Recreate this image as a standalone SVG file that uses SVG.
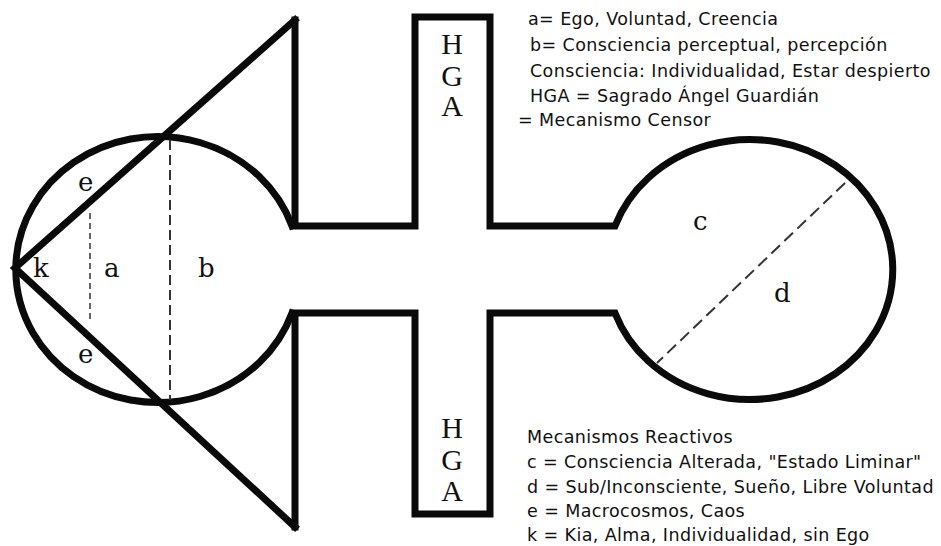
<svg xmlns="http://www.w3.org/2000/svg" width="941" height="546" viewBox="0 0 941 546">
<style>
.ol{fill:none;stroke:#0a0a0a;stroke-width:7;stroke-linejoin:miter;stroke-linecap:square}
.dash{fill:none;stroke:#333;}
.lbl{font-family:"DejaVu Serif","Liberation Serif",serif;font-size:26px;fill:#111}
.hga{font-family:"Liberation Serif","DejaVu Serif",serif;font-size:30px;fill:#111;text-anchor:middle}
.leg{font-family:"DejaVu Sans","Liberation Sans",sans-serif;font-size:17.5px;letter-spacing:0.4px;fill:#111}
</style>
<rect width="941" height="546" fill="#fff"/>
<g id="outline">
<path class="ol" d="M295,20 L295,226 L415,226 L415,17 L490,17 L490,226 L615,226 A143,130 0 1,1 615,313 L490,313 L490,514 L415,514 L415,313 L295,313 L295,527"/>
<path class="ol" d="M292,226 A142,133 0 1,0 292,313"/>
<path class="ol" d="M295,20 L15,268 L295,527"/>
</g>
<g id="connectors">
<line class="dash" x1="90" y1="213" x2="90" y2="322" stroke-width="1.5" stroke-dasharray="6,4"/>
<line class="dash" x1="170" y1="140" x2="170" y2="400" stroke-width="2" stroke-dasharray="10,5"/>
<line class="dash" x1="845" y1="183" x2="657" y2="363" stroke-width="2" stroke-dasharray="12,6"/>
</g>
<g id="labels">
<text class="lbl" x="78" y="191">e</text>
<text class="lbl" x="78" y="363">e</text>
<text class="lbl" x="33" y="277">k</text>
<text class="lbl" x="104" y="277">a</text>
<text class="lbl" x="198" y="277">b</text>
<text class="lbl" x="693" y="230">c</text>
<text class="lbl" x="774" y="302">d</text>
</g>
<g id="hga-top">
<text class="hga" x="452" y="54">H</text>
<text class="hga" x="452" y="86">G</text>
<text class="hga" x="452" y="116">A</text>
</g>
<g id="hga-bottom">
<text class="hga" x="452" y="438">H</text>
<text class="hga" x="452" y="470">G</text>
<text class="hga" x="452" y="501">A</text>
</g>
<g id="legend-top">
<text class="leg" x="528" y="25">a= Ego, Voluntad, Creencia</text>
<text class="leg" x="530" y="51">b= Consciencia perceptual, percepción</text>
<text class="leg" x="530" y="77">Consciencia: Individualidad, Estar despierto</text>
<text class="leg" x="530" y="102">HGA = Sagrado Ángel Guardián</text>
<text class="leg" x="518" y="126">= Mecanismo Censor</text>
</g>
<g id="legend-bottom">
<text class="leg" x="527" y="443">Mecanismos Reactivos</text>
<text class="leg" x="527" y="468">c = Consciencia Alterada, "Estado Liminar"</text>
<text class="leg" x="527" y="493">d = Sub/Inconsciente, Sueño, Libre Voluntad</text>
<text class="leg" x="527" y="517">e = Macrocosmos, Caos</text>
<text class="leg" x="527" y="541">k = Kia, Alma, Individualidad, sin Ego</text>
</g>
</svg>
